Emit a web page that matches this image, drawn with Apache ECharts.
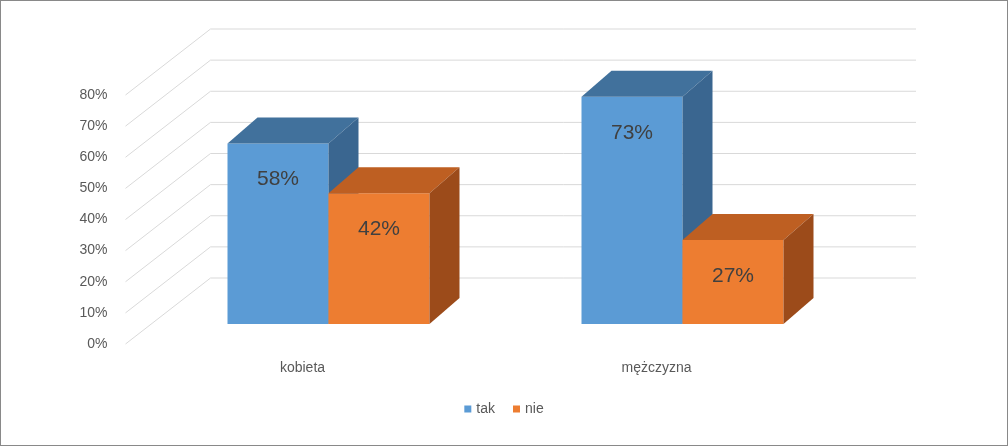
<!DOCTYPE html>
<html><head><meta charset="utf-8">
<script src="https://cdn.jsdelivr.net/npm/echarts@6/dist/echarts.min.js"></script>
<style>html,body{margin:0;padding:0;background:#fff}#c{width:1008px;height:446px;box-sizing:border-box;border:1px solid #898989}</style>
</head><body><div id="c"></div>
<script>
var categories = ['kobieta', 'mężczyzna'];
var tak = [0.58, 0.73];
var nie = [0.42, 0.27];
var ticks = [0, 0.1, 0.2, 0.3, 0.4, 0.5, 0.6, 0.7, 0.8];

var chart = echarts.init(document.getElementById('c'));
var SHIFT = 26, BW = 101, DX = 30, DY = -26, DROP = 20;
var faces = {
  tak: ['#5B9BD5', '#41719C', '#3A6690'],
  nie: ['#ED7D31', '#BE5F22', '#9C4B1A']
};
function barItem(key, side) {
  return function (params, api) {
    var ci = api.value(0), v = api.value(1);
    var p0 = api.coord([ci, 0]), p1 = api.coord([ci, v]);
    var c = faces[key];
    var x0 = p0[0] + SHIFT + (side === 0 ? -BW : 0), x1 = x0 + BW;
    var yb = p0[1] - DROP, yt = p1[1] - DROP;
    return { type: 'group', children: [
      { type: 'polygon', shape: { points: [[x0, yb], [x1, yb], [x1, yt], [x0, yt]] }, style: { fill: c[0] } },
      { type: 'polygon', shape: { points: [[x0, yt], [x1, yt], [x1 + DX, yt + DY], [x0 + DX, yt + DY]] }, style: { fill: c[1] } },
      { type: 'polygon', shape: { points: [[x1, yb], [x1 + DX, yb + DY], [x1 + DX, yt + DY], [x1, yt]] }, style: { fill: c[2] } },
      { type: 'text', style: { text: Math.round(v * 100) + '%', x: (x0 + x1) / 2, y: yt + 36, align: 'center', verticalAlign: 'middle', fill: '#404040', font: '21px "Liberation Sans", Arial, sans-serif' } }
    ]};
  };
}
chart.setOption({
  animation: false,
  grid: { left: 124.5, right: 173.5, top: 94, bottom: 101 },
  legend: { bottom: 24, left: 'center', itemWidth: 7, itemHeight: 7, itemGap: 18, icon: 'rect',
    textStyle: { color: '#595959', fontSize: 14, fontFamily: 'Liberation Sans, Arial' }, data: ['tak', 'nie'] },
  xAxis: { type: 'category', data: categories, axisLine: { show: false }, axisTick: { show: false },
    axisLabel: { color: '#595959', fontSize: 14, margin: 17, fontFamily: 'Liberation Sans, Arial' } },
  yAxis: { type: 'value', min: 0, max: 0.8, interval: 0.1, splitLine: { show: false },
    axisLabel: { color: '#595959', fontSize: 14, margin: 18, fontFamily: 'Liberation Sans, Arial', formatter: function (v) { return Math.round(v * 100) + '%'; } } },
  series: [
    { type: 'custom', silent: true, z: 1, data: ticks.map(function (t) { return [0, t]; }),
      renderItem: function (params, api) {
        var p = api.coord([0, api.value(1)]);
        var x = params.coordSys.x, y = p[1];
        return { type: 'polyline', shape: { points: [[x, y], [x + 85, y - 66], [915, y - 66]] }, style: { stroke: '#D9D9D9', lineWidth: 1, fill: null } };
      } },
    { name: 'tak', type: 'custom', z: 2, itemStyle: { color: '#5B9BD5' }, data: tak.map(function (v, i) { return [i, v]; }), renderItem: barItem('tak', 0) },
    { name: 'nie', type: 'custom', z: 3, itemStyle: { color: '#ED7D31' }, data: nie.map(function (v, i) { return [i, v]; }), renderItem: barItem('nie', 1) }
  ]
});
</script></body></html>
